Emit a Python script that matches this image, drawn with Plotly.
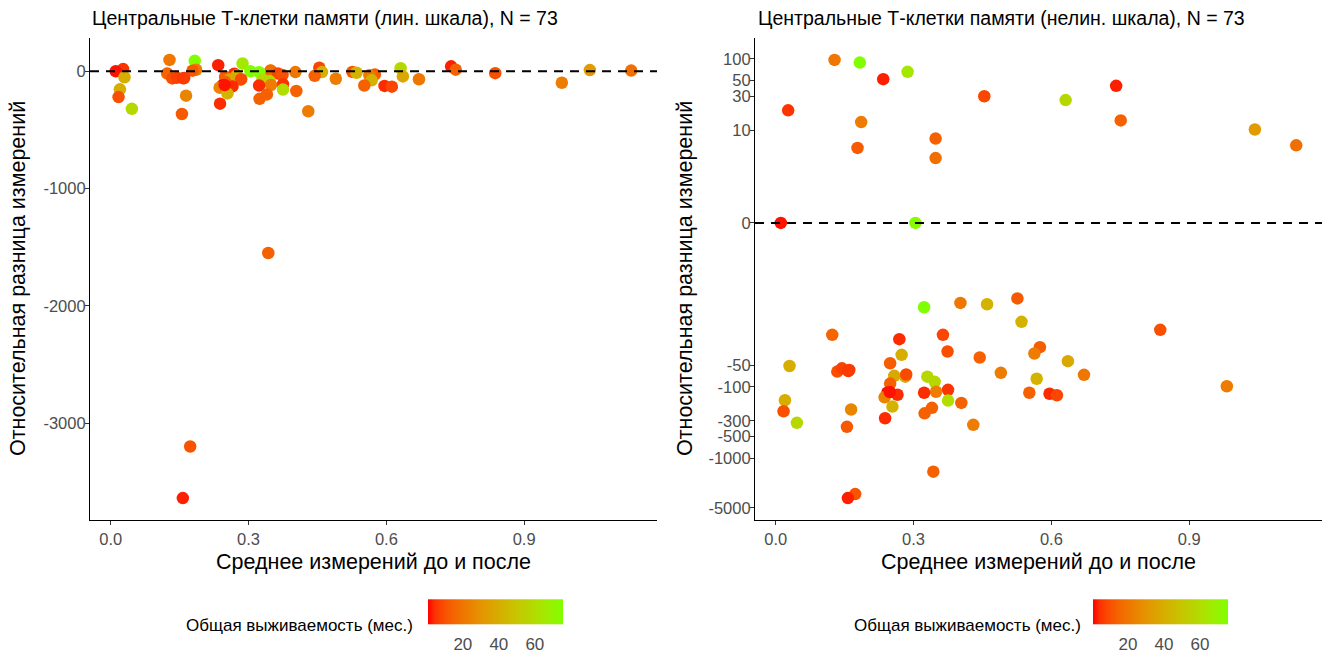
import numpy as np
import plotly.graph_objects as go

# ---- data: mean of before/after, relative difference, overall survival (months)
mean_vals = [
    0.128, 0.183, 0.234, 0.287, 0.454, 0.027, 0.186, 0.178, 0.348, 0.348,
    0.011, 0.304, 0.631, 0.741, 0.751, 1.043, 1.133, 0.323, 0.402, 0.460,
    0.526, 0.535, 0.123, 0.269, 0.364, 0.374, 0.274, 0.444, 0.030, 0.249,
    0.134, 0.144, 0.158, 0.490, 0.258, 0.282, 0.284, 0.330, 0.346, 0.249,
    0.375, 0.349, 0.323, 0.243, 0.265, 0.237, 0.020, 0.375, 0.404, 0.254,
    0.340, 0.324, 0.017, 0.164, 0.238, 0.155, 0.046, 0.430, 0.343, 0.173,
    0.157, 0.575, 0.563, 0.636, 0.671, 0.568, 0.596, 0.612, 0.552, 0.837,
    0.982, 0.248, 0.160,
]
rel_diff = [
    97, 89, 52, 66, 30, 19, 13, 5.6, 7.6, 4.0,
    0, 0, 26.5, 42, 13.7, 10.2, 6.1, -7.6, -6.6, -6.9,
    -5.7, -12.2, -18.6, -21.4, -18.6, -31.9, -35.5, -38.7, -51, -46.6,
    -61, -55, -60, -63.5, -70, -72, -67, -72, -85, -90,
    -110, -117, -121, -121, -129, -140, -154, -156, -168, -189,
    -197, -235, -220, -208, -276, -364, -320, -341, -1550, -3200,
    -3640, -27.7, -34, -43.6, -67.8, -77, -125, -131, -121, -15.8,
    -98, -118, -58,
]
survival = [
    20, 75, 3, 65, 8, 5, 22, 12, 14, 18,
    2, 74, 58, 3, 14, 33, 18, 75.6, 20, 42,
    12, 42, 15, 4, 8, 10, 40, 14, 40, 13,
    10, 7, 5, 22, 38, 38, 9, 58, 58, 14,
    5, 22, 4, 0.6, 4, 24, 40, 60, 14, 42,
    14, 14, 10, 25, 4, 12, 58, 22, 14, 11,
    3, 13, 22, 38, 20, 42, 4, 8, 14, 10,
    22, 2, 6,
]

x_ticks = [0.0, 0.3, 0.6, 0.9]
lin_y_ticks = [0, -1000, -2000, -3000]
nonlin_y_ticks = [100, 50, 30, 10, 0, -50, -100, -300, -500, -1000, -5000]

n = len(mean_vals)
title_lin = f"Центральные Т-клетки памяти (лин. шкала), N = {n}"
title_nonlin = f"Центральные Т-клетки памяти (нелин. шкала), N = {n}"
x_label = "Среднее измерений до и после"
y_label = "Относительная разница измерений"
legend_label = "Общая выживаемость (мес.)"


# pseudo-log transform (sigma = 0.5, base 10)
def pseudo_log(v):
    return np.arcsinh(np.asarray(v, dtype=float)) / np.log(10)


# ---- red -> chartreuse gradient interpolated in CIE Lab
def srgb_to_lab(rgb):
    c = np.array(rgb, dtype=float) / 255.0
    c = np.where(c > 0.04045, ((c + 0.055) / 1.055) ** 2.4, c / 12.92)
    m = np.array([[0.4124, 0.3576, 0.1805],
                  [0.2126, 0.7152, 0.0722],
                  [0.0193, 0.1192, 0.9505]])
    xyz = m @ c / np.array([0.95047, 1.0, 1.08883])
    f = np.where(xyz > 0.008856, np.cbrt(xyz), 7.787 * xyz + 16 / 116)
    return np.array([116 * f[1] - 16, 500 * (f[0] - f[1]), 200 * (f[1] - f[2])])


def lab_to_srgb(lab):
    L, a, b = lab
    fy = (L + 16) / 116
    fx = fy + a / 500
    fz = fy - b / 200
    f = np.array([fx, fy, fz])
    xyz = np.where(f ** 3 > 0.008856, f ** 3, (f - 16 / 116) / 7.787)
    xyz = xyz * np.array([0.95047, 1.0, 1.08883])
    m = np.array([[3.2406, -1.5372, -0.4986],
                  [-0.9689, 1.8758, 0.0415],
                  [0.0557, -0.2040, 1.0570]])
    c = m @ xyz
    c = np.where(c > 0.0031308, 1.055 * np.clip(c, 0, None) ** (1 / 2.4) - 0.055, 12.92 * c)
    c = np.clip(c, 0, 1) * 255
    return "rgb({:.0f},{:.0f},{:.0f})".format(*c)


low_lab = srgb_to_lab((255, 0, 0))
high_lab = srgb_to_lab((127, 255, 0))
grad = [[t, lab_to_srgb(low_lab + (high_lab - low_lab) * t)] for t in np.linspace(0, 1, 21)]

FONT = "Liberation Sans, Arial, sans-serif"
TICK_COLOR = "#4D4D4D"

fig = go.Figure()

fig.add_trace(go.Scatter(
    x=mean_vals, y=rel_diff, mode="markers", xaxis="x", yaxis="y",
    marker=dict(size=12.5, color=survival, coloraxis="coloraxis", line=dict(width=0)),
    showlegend=False,
))
fig.add_trace(go.Scatter(
    x=mean_vals, y=pseudo_log(rel_diff), mode="markers", xaxis="x2", yaxis="y2",
    customdata=rel_diff,
    marker=dict(size=12.5, color=survival, coloraxis="coloraxis2", line=dict(width=0)),
    showlegend=False,
))

# dashed zero reference lines, drawn over the points
for xr, yr in (("x domain", "y"), ("x2 domain", "y2")):
    fig.add_shape(type="line", xref=xr, yref=yr, x0=0, x1=1, y0=0, y1=0,
                  line=dict(color="black", width=2, dash="9px,7px"), layer="above")


def data_range(vals, pad=0.05):
    lo, hi = float(np.min(vals)), float(np.max(vals))
    span = hi - lo
    return [lo - pad * span, hi + pad * span]


axis_common = dict(
    showline=True, linecolor="black", linewidth=1.2, mirror=False,
    ticks="outside", ticklen=4, tickwidth=1.1, tickcolor="#333333",
    showgrid=False, zeroline=False,
    tickfont=dict(family=FONT, size=16.5, color=TICK_COLOR),
)

xr = data_range(mean_vals)
fig.update_layout(
    xaxis=dict(domain=[0, 0.4602], range=xr, tickvals=x_ticks,
               ticktext=[f"{v:.1f}" for v in x_ticks], anchor="y", **axis_common),
    yaxis=dict(domain=[0, 1], range=data_range(rel_diff), tickvals=lin_y_ticks,
               ticktext=[str(v) for v in lin_y_ticks], anchor="x",
               ticklabelstandoff=-4, **axis_common),
    xaxis2=dict(domain=[0.5398, 1], range=xr, tickvals=x_ticks,
                ticktext=[f"{v:.1f}" for v in x_ticks], anchor="y2", **axis_common),
    yaxis2=dict(domain=[0, 1], range=data_range(pseudo_log(rel_diff)),
                tickvals=list(pseudo_log(nonlin_y_ticks)),
                ticktext=[str(v) for v in nonlin_y_ticks], anchor="x2",
                ticklabelstandoff=-4, **axis_common),
)

cbar_common = dict(
    orientation="h", lenmode="pixels", len=135, thickness=25,
    yanchor="middle", y=-0.221, xanchor="center",
    outlinewidth=0, ticks="outside", ticklen=6, tickcolor="rgba(0,0,0,0)", tickwidth=1,
    tickvals=[20, 40, 60],
    tickfont=dict(family=FONT, size=17, color=TICK_COLOR),
    title=dict(text=""), xpad=0, ypad=0,
)
fig.update_layout(
    coloraxis=dict(colorscale=grad, colorbar=dict(x=0.3291, **cbar_common)),
    coloraxis2=dict(colorscale=grad, colorbar=dict(x=0.8689, **cbar_common)),
)

annotations = [
    dict(text=title_lin, x=0.0, y=1.0415, xanchor="left", yanchor="middle",
         font=dict(size=19.5, color="black")),
    dict(text=title_nonlin, x=0.5406, y=1.0415, xanchor="left", yanchor="middle",
         font=dict(size=19.5, color="black")),
    dict(text=x_label, x=0.2301, y=-0.0871, xanchor="center", yanchor="middle",
         font=dict(size=21.5, color="black")),
    dict(text=x_label, x=0.7699, y=-0.0871, xanchor="center", yanchor="middle",
         font=dict(size=21.5, color="black")),
    dict(text=y_label, x=-0.0584, y=0.5, xanchor="center", yanchor="middle",
         textangle=-90, font=dict(size=21.5, color="black")),
    dict(text=y_label, x=0.483, y=0.5, xanchor="center", yanchor="middle",
         textangle=-90, font=dict(size=21.5, color="black")),
    dict(text=legend_label, x=0.2638, y=-0.219, xanchor="right", yanchor="middle",
         font=dict(size=17, color="black")),
    dict(text=legend_label, x=0.806, y=-0.219, xanchor="right", yanchor="middle",
         font=dict(size=17, color="black")),
]
for a in annotations:
    a.update(xref="paper", yref="paper", showarrow=False)
    a["font"]["family"] = FONT

fig.update_layout(
    width=1336, height=653,
    margin=dict(l=90, r=14, t=38, b=133, autoexpand=False),
    paper_bgcolor="white", plot_bgcolor="white",
    font=dict(family=FONT),
    annotations=annotations,
)

fig.write_html("out.html", include_plotlyjs=True, full_html=True,
               config={"displayModeBar": False})
